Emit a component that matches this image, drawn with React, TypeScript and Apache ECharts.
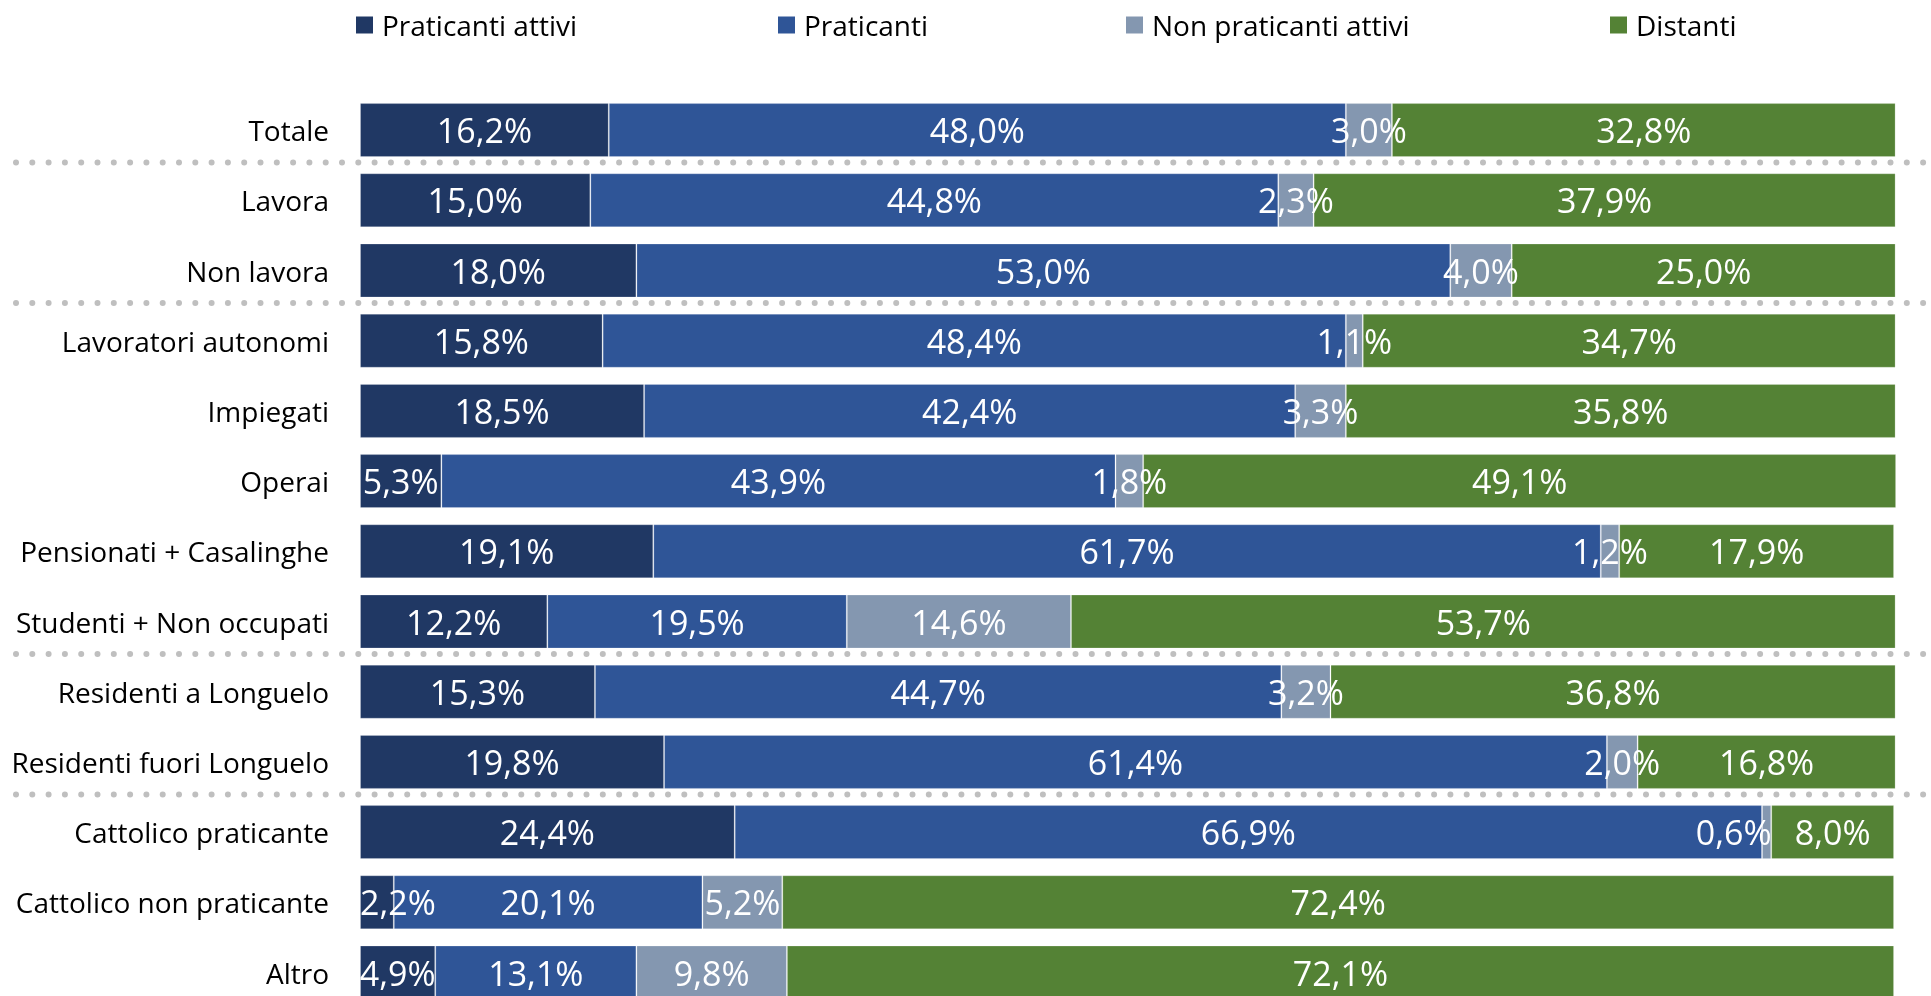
import React, { useEffect, useRef } from "react";
import * as echarts from "echarts";

const categories = [
  "Totale",
  "Lavora",
  "Non lavora",
  "Lavoratori autonomi",
  "Impiegati",
  "Operai",
  "Pensionati + Casalinghe",
  "Studenti + Non occupati",
  "Residenti a Longuelo",
  "Residenti fuori Longuelo",
  "Cattolico praticante",
  "Cattolico non praticante",
  "Altro",
];

const seriesNames = ["Praticanti attivi", "Praticanti", "Non praticanti attivi", "Distanti"];

const praticantiAttivi = [16.2, 15.0, 18.0, 15.8, 18.5, 5.3, 19.1, 12.2, 15.3, 19.8, 24.4, 2.2, 4.9];
const praticanti = [48.0, 44.8, 53.0, 48.4, 42.4, 43.9, 61.7, 19.5, 44.7, 61.4, 66.9, 20.1, 13.1];
const nonPraticantiAttivi = [3.0, 2.3, 4.0, 1.1, 3.3, 1.8, 1.2, 14.6, 3.2, 2.0, 0.6, 5.2, 9.8];
const distanti = [32.8, 37.9, 25.0, 34.7, 35.8, 49.1, 17.9, 53.7, 36.8, 16.8, 8.0, 72.4, 72.1];

const separatorsAfter = ["Totale", "Non lavora", "Studenti + Non occupati", "Residenti fuori Longuelo"];

const colors = ["#203864", "#2F5597", "#8497B0", "#548235"];
const FONT = "'Open Sans', 'Noto Sans', sans-serif";

const fmt = (v: number) => v.toFixed(1).replace(".", ",") + "%";

export default function App() {
  const ref = useRef<HTMLDivElement>(null);

  useEffect(() => {
    if (!ref.current) return;
    document.body.style.margin = "0";
    document.body.style.overflow = "hidden";
    const chart = echarts.init(ref.current, undefined, { renderer: "svg" });

    const allData = [praticantiAttivi, praticanti, nonPraticantiAttivi, distanti];

    const labelOffsets: Record<string, [number, number]> = {
      "0|Cattolico non praticante": [21, 0],
      "2|Cattolico praticante": [-33, 0],
    };

    const series = allData.map((arr, si) => ({
      name: seriesNames[si],
      type: "bar",
      stack: "total",
      barWidth: 54,
      itemStyle: { color: colors[si], borderColor: "rgba(255,255,255,0.22)", borderWidth: 1 },
      label: {
        show: true,
        position: "inside",
        color: "#ffffff",
        fontFamily: FONT,
        fontSize: 34,
        formatter: (p: any) => fmt(p.value),
      },
      data: arr.map((v, ci) => {
        const key = si + "|" + categories[ci];
        if (labelOffsets[key]) {
          return { value: v, label: { offset: labelOffsets[key] } };
        }
        return v;
      }),
    }));

    const legendLefts = [356, 778, 1126, 1610];

    chart.setOption({
      animation: false,
      legend: seriesNames.map((n, i) => ({
        data: [n],
        left: legendLefts[i],
        top: 11,
        padding: 0,
        icon: "rect",
        itemWidth: 17,
        itemHeight: 17,
        itemGap: 10,
        itemStyle: { borderWidth: 0 },
        textStyle: { fontFamily: FONT, fontSize: 28, color: "#000", padding: [0, 0, 0, 4] },
        selectedMode: false,
      })),
      grid: { left: 360, width: 1535.6, top: 95, height: 912.6 },
      xAxis: { type: "value", min: 0, max: 100, show: false },
      yAxis: {
        type: "category",
        inverse: true,
        data: categories,
        axisLine: { show: false },
        axisTick: { show: false },
        splitLine: { show: false },
        axisLabel: { fontFamily: FONT, fontSize: 28, color: "#000", margin: 31 },
      },
      series,
    });

    const graphics = separatorsAfter.map((c) => {
      const yc = chart.convertToPixel({ yAxisIndex: 0 }, c) as number;
      const y = yc + 32.5;
      return {
        type: "line",
        silent: true,
        shape: { x1: 16, y1: y, x2: 1924, y2: y },
        style: { stroke: "#BFBFBF", lineWidth: 6, lineDash: [0.01, 16.29], lineCap: "round" },
        z: 10,
      };
    });
    chart.setOption({ graphic: graphics });

    return () => chart.dispose();
  }, []);

  return (
    <div
      ref={ref}
      style={{ position: "fixed", left: 0, top: 0, width: 1931, height: 1012 }}
    />
  );
}
